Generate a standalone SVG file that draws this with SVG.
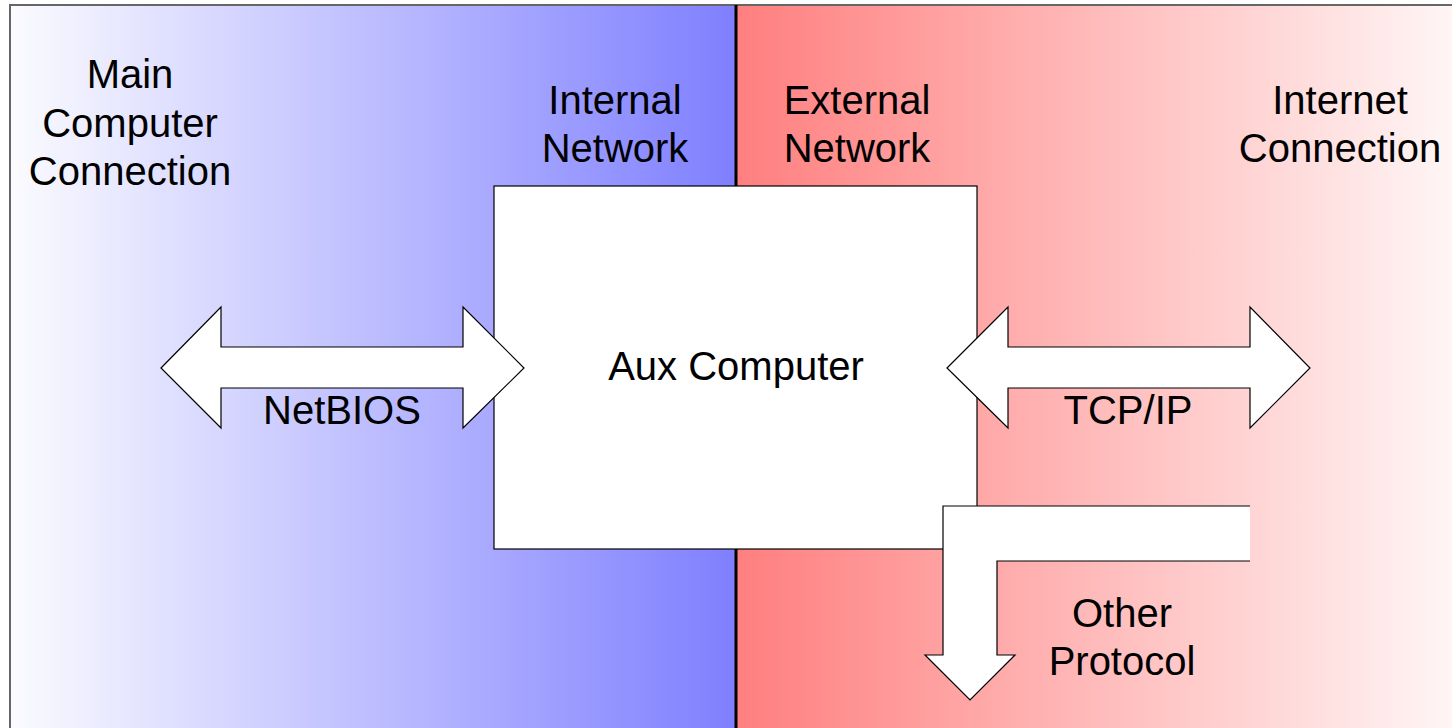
<svg xmlns="http://www.w3.org/2000/svg" width="1452" height="728" viewBox="0 0 1452 728">
<defs>
<linearGradient id="gl" x1="0" y1="0" x2="1" y2="0">
<stop offset="0" stop-color="#fbfbff"/>
<stop offset="1" stop-color="#7f7fff"/>
</linearGradient>
<linearGradient id="gr" x1="0" y1="0" x2="1" y2="0">
<stop offset="0" stop-color="#ff7f7f"/>
<stop offset="1" stop-color="#fff6f6"/>
</linearGradient>
</defs>
<style>
text{font-family:"Liberation Sans",Arial,sans-serif;font-size:40px;fill:#000;text-anchor:middle}
.arrow{fill:#fff;stroke:#000;stroke-width:1.2}
</style>
<rect width="1452" height="728" fill="#fff"/>
<g id="internal-zone">
<rect x="10" y="5" width="726" height="730" fill="url(#gl)" stroke="#666" stroke-width="2"/>
</g>
<g id="external-zone">
<rect x="736" y="5" width="720" height="730" fill="url(#gr)" stroke="#666" stroke-width="2"/>
</g>
<line x1="736" y1="5" x2="736" y2="728" stroke="#000" stroke-width="3"/>
<g id="labels">
<text x="130" y="88">Main</text>
<text x="130" y="137">Computer</text>
<text x="130" y="185">Connection</text>
<text x="615" y="114">Internal</text>
<text x="615" y="162">Network</text>
<text x="857" y="114">External</text>
<text x="857" y="162">Network</text>
<text x="1340" y="114">Internet</text>
<text x="1340" y="162">Connection</text>
</g>
<g id="aux-computer">
<rect x="494" y="186" width="483" height="363" fill="#fff" stroke="#000" stroke-width="1.2"/>
<text x="736" y="380">Aux Computer</text>
</g>
<g id="connectors">
<g id="netbios">
<polygon class="arrow" points="161,368 221,307 221,347 463,347 463,307 524,368 463,428 463,388 221,388 221,428"/>
<text x="342" y="424">NetBIOS</text>
</g>
<g id="tcpip">
<polygon class="arrow" points="947,368 1008,307 1008,347 1250,347 1250,307 1310,368 1250,428 1250,388 1008,388 1008,428"/>
<text x="1128" y="424">TCP/IP</text>
</g>
<g id="other-protocol">
<polygon points="1250,506 943,506 943,655 925,655 970,700 1015,655 997,655 997,561 1250,561" fill="#fff"/>
<polyline points="1250,506 943,506 943,655 925,655 970,700 1015,655 997,655 997,561 1250,561" fill="none" stroke="#000" stroke-width="1.2"/>
<text x="1122" y="627">Other</text>
<text x="1122" y="675">Protocol</text>
</g>
</g>
</svg>
